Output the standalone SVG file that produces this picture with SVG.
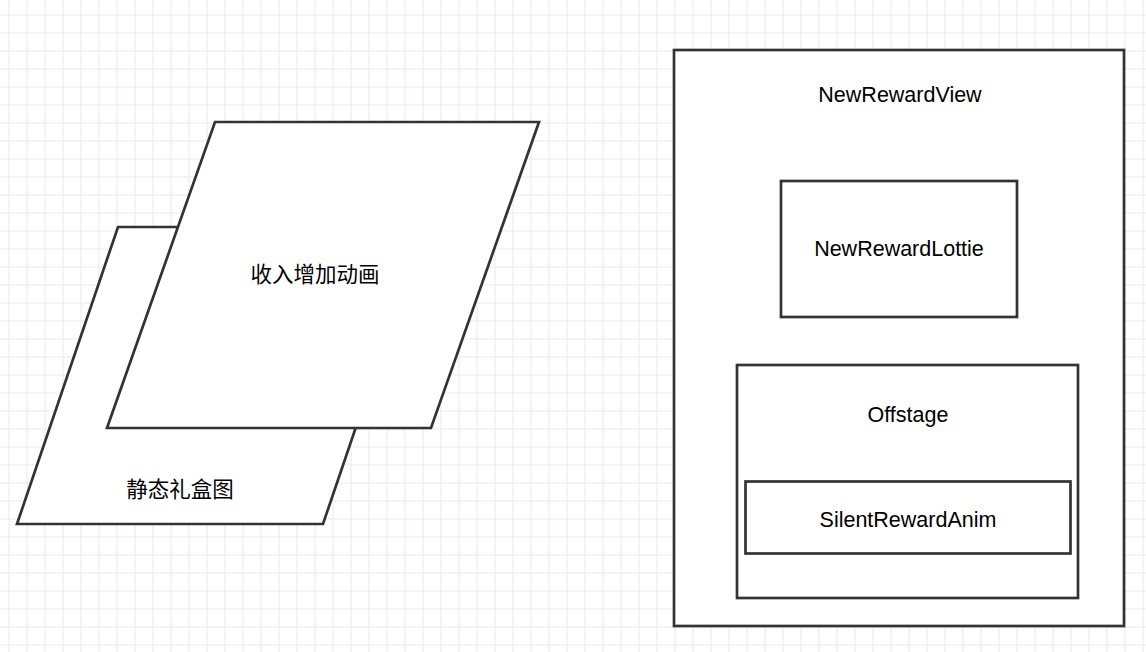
<svg xmlns="http://www.w3.org/2000/svg" width="1146" height="652" viewBox="0 0 1146 652">
  <defs>
    <pattern id="grid" patternUnits="userSpaceOnUse" x="8.5" y="14.5" width="18" height="18">
      <path d="M0 0.5 H18 M0.5 0 V18" fill="none" stroke="#e9e7fb" stroke-width="1"/>
    </pattern>
  </defs>
  <style>
    .shape { fill: #ffffff; stroke: #333333; stroke-width: 2.7; stroke-linejoin: miter; }
    .label { font-family: "Liberation Sans", Arial, "Noto Sans CJK SC", sans-serif; font-size: 21.5px; fill: #000000; text-anchor: middle; }
  </style>
  <rect x="0" y="0" width="1146" height="652" fill="#ffffff"/>
  <rect x="0" y="0" width="1146" height="652" fill="url(#grid)"/>

  <g id="connectors"></g>

  <g id="static-gift">
    <polygon class="shape" points="118,227 424,227 323,524 17,524"/>
    <text class="label" x="180" y="497">静态礼盒图</text>
  </g>

  <g id="income-anim">
    <polygon class="shape" points="215,122 539,122 431,428 107,428"/>
    <text class="label" x="315" y="282">收入增加动画</text>
  </g>

  <g id="new-reward-view">
    <rect class="shape" x="674" y="50" width="450" height="576"/>
    <text class="label" x="900" y="102">NewRewardView</text>
  </g>

  <g id="new-reward-lottie">
    <rect class="shape" x="781" y="181" width="236" height="136"/>
    <text class="label" x="899" y="256">NewRewardLottie</text>
  </g>

  <g id="offstage">
    <rect class="shape" x="737" y="365" width="341" height="233"/>
    <text class="label" x="908" y="422">Offstage</text>
  </g>

  <g id="silent-reward-anim">
    <rect class="shape" x="745.5" y="481.5" width="325" height="72"/>
    <text class="label" x="908" y="527">SilentRewardAnim</text>
  </g>
</svg>
